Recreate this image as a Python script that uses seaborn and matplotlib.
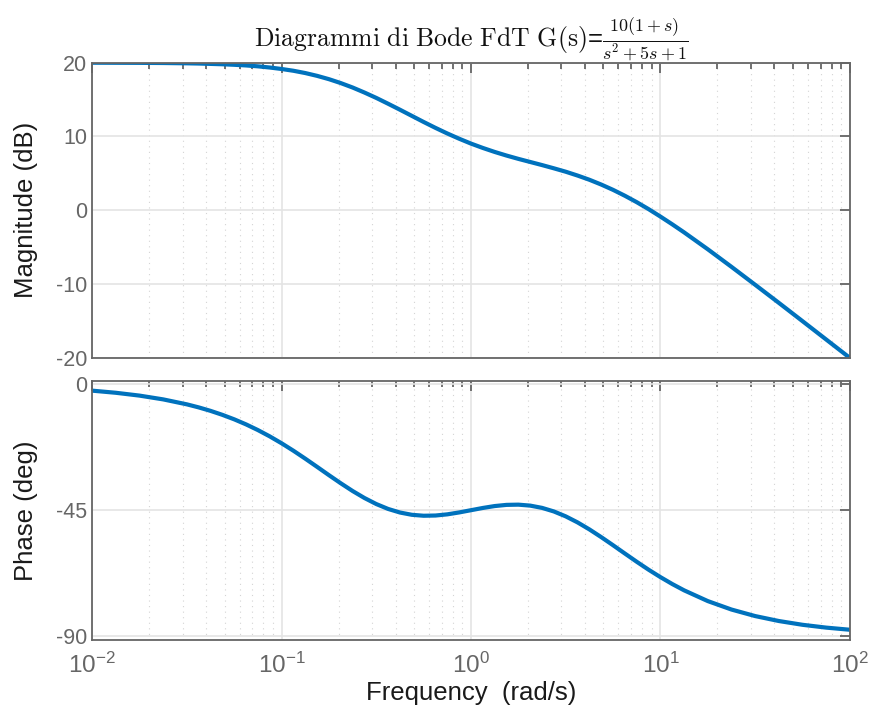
import numpy as np
import pandas as pd
import seaborn as sns
import matplotlib.pyplot as plt
from matplotlib.ticker import LogLocator, NullFormatter

# values (log10 of frequency, finer steps where the curve bends)
freq_exp = [-2.0, -1.875, -1.75, -1.625, -1.5, -1.4375, -1.375, -1.3125, -1.25, -1.1875,
            -1.125, -1.0625, -1.0, -0.9375, -0.875, -0.8125, -0.75, -0.6875, -0.625, -0.5625,
            -0.5, -0.4375, -0.375, -0.3125, -0.25, -0.1875, -0.125, -0.0625, 0.0, 0.0625,
            0.125, 0.1875, 0.25, 0.3125, 0.375, 0.4375, 0.5, 0.5625, 0.625, 0.6875,
            0.75, 0.8125, 0.875, 0.9375, 1.0, 1.0625, 1.125, 1.25, 1.375, 1.5,
            1.625, 1.75, 1.875, 2.0]
mag_db = [19.99, 19.98, 19.97, 19.95, 19.91, 19.88, 19.83, 19.78, 19.71, 19.62,
          19.50, 19.34, 19.14, 18.90, 18.59, 18.21, 17.76, 17.23, 16.63, 15.95,
          15.22, 14.43, 13.62, 12.79, 11.96, 11.16, 10.40, 9.69, 9.03, 8.44,
          7.90, 7.41, 6.96, 6.54, 6.12, 5.68, 5.22, 4.70, 4.13, 3.48,
          2.76, 1.96, 1.09, 0.15, -0.86, -1.91, -3.00, -5.29, -7.67, -10.10,
          -12.55, -15.03, -17.52, -20.01]
phase_deg = [-2.29, -3.05, -4.06, -5.41, -7.18, -8.27, -9.51, -10.93, -12.53, -14.34,
             -16.37, -18.62, -21.09, -23.75, -26.58, -29.51, -32.48, -35.38, -38.14, -40.64,
             -42.80, -44.55, -45.83, -46.64, -46.98, -46.90, -46.48, -45.80, -45.00, -44.20,
             -43.52, -43.10, -43.02, -43.36, -44.17, -45.45, -47.20, -49.36, -51.86, -54.62,
             -57.52, -60.49, -63.43, -66.26, -68.91, -71.38, -73.63, -77.47, -80.49, -82.82,
             -84.59, -85.94, -86.95, -87.71]

df = pd.DataFrame({'freq': [10 ** e for e in freq_exp],
                   'mag': mag_db, 'phase': phase_deg})

sns.set_style('white')
plt.rcParams['font.family'] = ['Liberation Sans', 'DejaVu Sans']
plt.rcParams['mathtext.fontset'] = 'cm'
plt.rcParams['axes.unicode_minus'] = False

line_col = '#0072BD'
ax_col = '#666666'
lab_col = '#1a1a1a'

fig = plt.figure(figsize=(8.69, 7.2), dpi=100)
ax1 = fig.add_axes([0.106, 0.503, 0.872, 0.410])
ax2 = fig.add_axes([0.106, 0.111, 0.872, 0.360])

sns.lineplot(data=df, x='freq', y='mag', ax=ax1, color=line_col, linewidth=3.0)
sns.lineplot(data=df, x='freq', y='phase', ax=ax2, color=line_col, linewidth=3.0)

for ax in (ax1, ax2):
    ax.set_xscale('log')
    ax.set_xlim(1e-2, 1e2)
    ax.xaxis.set_major_locator(LogLocator(base=10, numticks=10))
    ax.xaxis.set_minor_locator(LogLocator(base=10, subs=np.arange(2, 10), numticks=20))
    ax.xaxis.set_minor_formatter(NullFormatter())
    ax.grid(True, which='major', color='#e4e4e4', linewidth=1.2)
    ax.grid(True, which='minor', color='#d4d4d4', linestyle=(0, (1, 4)), linewidth=0.8)
    ax.set_axisbelow(True)
    for s in ax.spines.values():
        s.set_color(ax_col)
        s.set_linewidth(1.3)
    ax.tick_params(which='both', direction='in', top=True, right=True,
                   colors=ax_col, labelsize=15.5, width=1.3)
    ax.tick_params(which='major', length=7)
    ax.tick_params(which='minor', length=4)
    ax.yaxis.set_label_coords(-0.072, 0.5)

ax1.set_ylim(-20, 20)
ax1.set_yticks([-20, -10, 0, 10, 20])
ax1.set_xticklabels([])
ax1.set_xlabel('')
ax1.set_ylabel('Magnitude (dB)', fontsize=18.5, color=lab_col)

ax2.set_ylim(-91.4, 1.2)
ax2.set_yticks([-90, -45, 0])
ax2.set_ylabel('Phase (deg)', fontsize=18.5, color=lab_col)
ax2.set_xlabel('Frequency  (rad/s)', fontsize=18.5, color=lab_col, labelpad=2)
ax2.tick_params(axis='x', pad=9, labelsize=17.5)

ax1.set_title(r'$\mathrm{Diagrammi\ di\ Bode\ FdT\ G(s)}$=$\frac{10(1+s)}{s^2+5s+1}$',
              fontsize=18.5, color='#111111', pad=12)

fig.savefig('out.png', dpi=100)
